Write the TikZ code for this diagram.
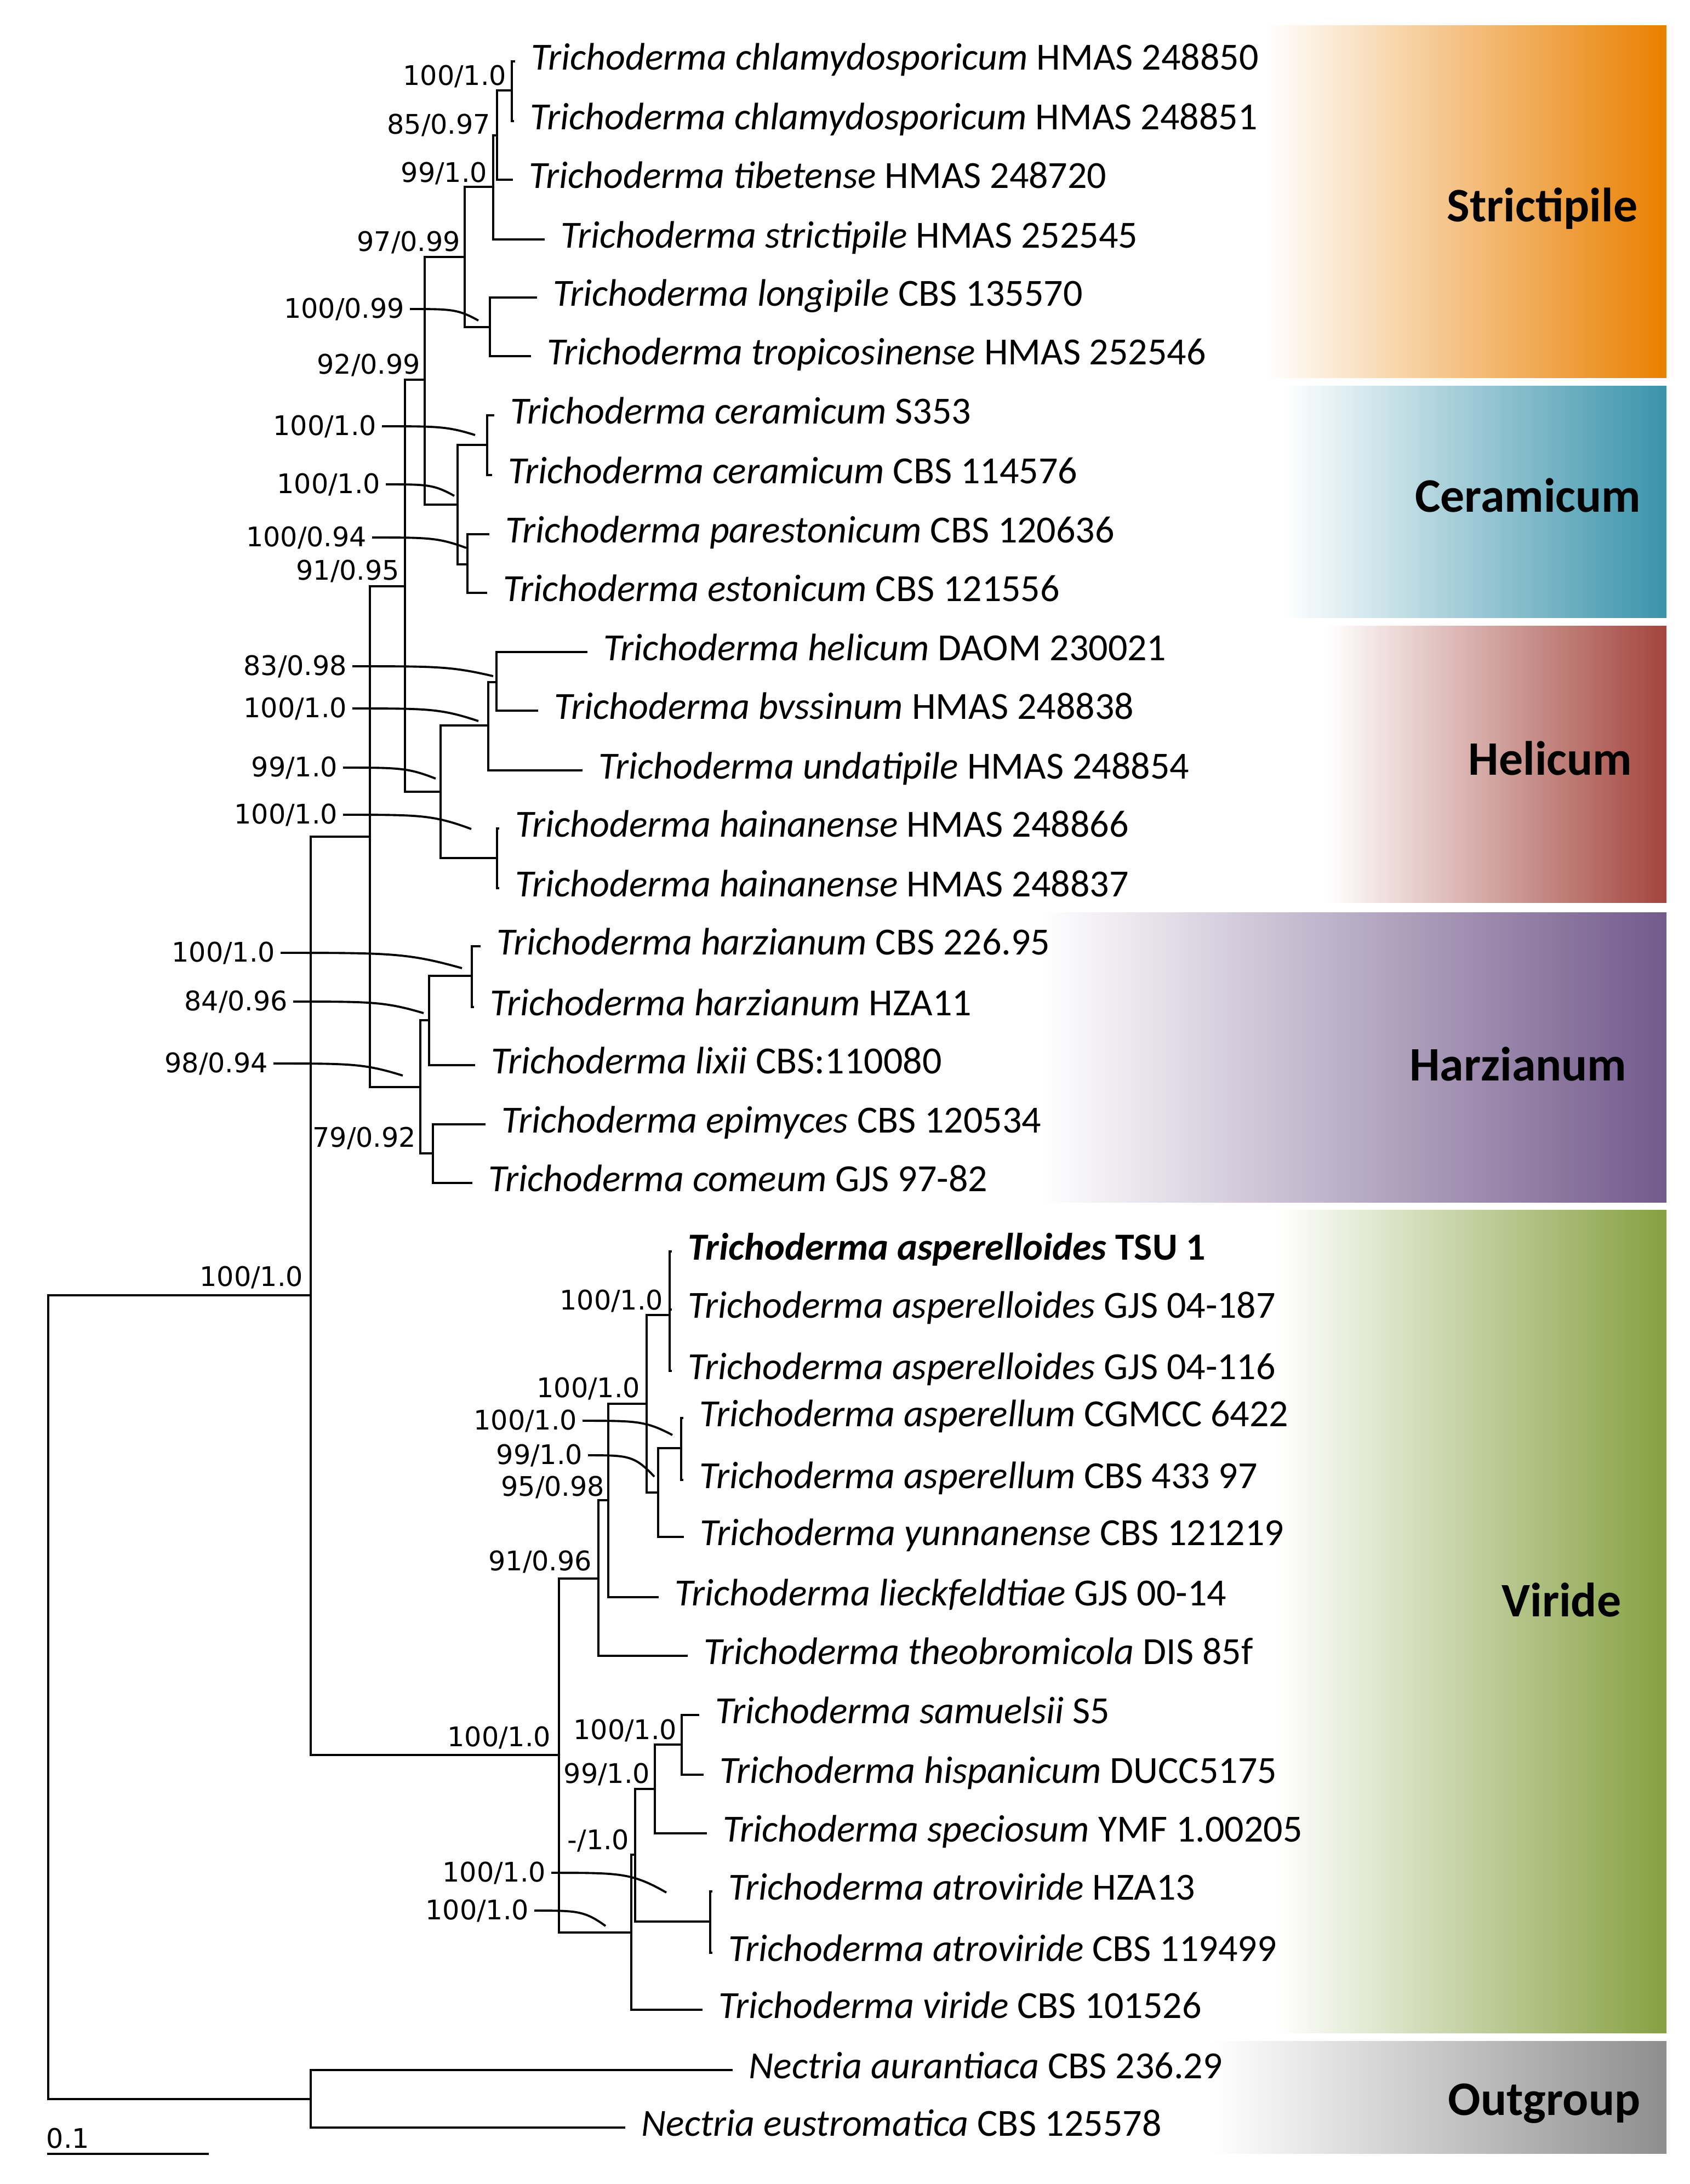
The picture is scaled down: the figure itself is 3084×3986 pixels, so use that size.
\documentclass[tikz,border=0pt]{standalone}
\usepackage{fontspec}
\setmainfont{Carlito}
\newfontfamily\supfam{DejaVu Sans}
\usetikzlibrary{calc}
\definecolor{cStr}{RGB}{233,128,0}
\definecolor{cCer}{RGB}{58,147,171}
\definecolor{cHel}{RGB}{163,69,61}
\definecolor{cHar}{RGB}{115,90,140}
\definecolor{cVir}{RGB}{134,160,65}
\definecolor{cOut}{RGB}{142,142,142}
\newcommand\taxfont{\fontsize{19.9}{23}\selectfont}
\newcommand\supfont{\supfam\fontsize{14}{16}\selectfont}
\newcommand\cladefont{\bfseries\fontsize{25}{30}\selectfont}
\tikzset{
  br/.style={line width=1.2pt, line cap=rect},
  tx/.style={anchor=base west, inner sep=0pt, font=\taxfont, xshift=0.31cm, yshift=-0.15cm},
  sup/.style={anchor=base east, inner sep=0pt, font=\supfont},
  ldr/.style={line width=1.1pt},
  clade/.style={anchor=base east, inner sep=0pt, font=\cladefont},
}
\newcommand\leadline[1]{%
  \coordinate (a#1) at ([xshift=0.09cm]s#1.east);
  \draw[ldr] (a#1) .. controls ($(a#1)!0.6!(a#1 -| k#1)$) and ($(a#1 -| k#1)!0.3!(a#1)$) .. (k#1);}
\begin{document}
\begin{tikzpicture}[x=0.01cm, y=-0.01cm]
\useasboundingbox (0,0) rectangle (3084,3986);
% clade bands
\shade[left color=white, right color=cStr] (2310,46) rectangle (3041,689);
\shade[left color=white, right color=cCer] (2340,704) rectangle (3041,1127);
\shade[left color=white, right color=cHel] (2420,1142) rectangle (3041,1647);
\shade[left color=white, right color=cHar] (1900,1665) rectangle (3041,2194);
\shade[left color=white, right color=cVir] (2330,2208) rectangle (3041,3710);
\shade[left color=white, right color=cOut] (2210,3725) rectangle (3041,3930);
\node[clade] (gS) at (2989,404) {Strictipile};
\node[clade] (gC) at (2995,934) {Ceramicum};
\node[clade] (gH) at (2979,1414) {Helicum};
\node[clade] (gZ) at (2969,1972) {Harzianum};
\node[clade] (gV) at (2959,2950) {Viride};
\node[clade] (gO) at (2994,3860) {Outgroup};
% internal nodes
\coordinate (R) at (88,3097);
\coordinate (Tri) at (567,2364);
\coordinate (Nec) at (567,3831);
\coordinate (U) at (675,1527);
\coordinate (V) at (1020,3203);
\coordinate (W) at (739,1070);
\coordinate (Hz) at (767,1984);
\coordinate (E) at (775,693);
\coordinate (Hel) at (804,1445);
\coordinate (D) at (848,469);
\coordinate (Cer) at (835,921);
\coordinate (C) at (900,341);
\coordinate (LT) at (894,597);
\coordinate (B) at (907,247);
\coordinate (A) at (934,165);
\coordinate (CA) at (889,812);
\coordinate (CB) at (853,1030);
\coordinate (HA) at (891,1324);
\coordinate (HB) at (907,1566);
\coordinate (HC) at (906,1245);
\coordinate (HzA) at (783,1862);
\coordinate (HzH) at (861,1781);
\coordinate (HzE) at (790,2105);
\coordinate (VA) at (1092,2881);
\coordinate (VB) at (1152,3527);
\coordinate (VC) at (1110,2738);
\coordinate (VD) at (1180,2562);
\coordinate (VE) at (1222,2400);
\coordinate (VF) at (1201,2724);
\coordinate (VG) at (1243,2643);
\coordinate (VH) at (1159,3385);
\coordinate (VI) at (1195,3265);
\coordinate (VJ) at (1296,3507);
\coordinate (VK) at (1244,3184);
% tips
\coordinate (t1) at (938,112);
\coordinate (t2) at (936,221);
\coordinate (t3) at (934,328);
\coordinate (t4) at (992,437);
\coordinate (t5) at (978,543);
\coordinate (t6) at (967,650);
\coordinate (t7) at (900,758);
\coordinate (t8) at (896,867);
\coordinate (t9) at (891,975);
\coordinate (t10) at (887,1082);
\coordinate (t11) at (1070,1190);
\coordinate (t12) at (980,1297);
\coordinate (t13) at (1061,1406);
\coordinate (t14) at (909,1512);
\coordinate (t15) at (909,1621);
\coordinate (t16) at (875,1727);
\coordinate (t17) at (863,1838);
\coordinate (t18) at (865,1944);
\coordinate (t19) at (884,2052);
\coordinate (t20) at (860,2159);
\coordinate (t21) at (1224,2284);
\coordinate (t22) at (1224,2390);
\coordinate (t23) at (1224,2502);
\coordinate (t24) at (1245,2588);
\coordinate (t25) at (1245,2701);
\coordinate (t26) at (1246,2805);
\coordinate (t27) at (1200,2915);
\coordinate (t28) at (1253,3022);
\coordinate (t29) at (1274,3130);
\coordinate (t30) at (1282,3239);
\coordinate (t31) at (1288,3346);
\coordinate (t32) at (1298,3452);
\coordinate (t33) at (1298,3564);
\coordinate (t34) at (1280,3668);
\coordinate (t35) at (1335,3778);
\coordinate (t36) at (1139,3883);
% branches
\draw[br] (R)|-(Tri) (R)|-(Nec) (Tri)|-(U) (Tri)|-(V) (U)|-(W) (U)|-(Hz)
  (W)|-(E) (W)|-(Hel) (E)|-(D) (E)|-(Cer) (D)|-(C) (D)|-(LT)
  (C)|-(B) (C)|-(t4) (B)|-(A) (B)|-(t3) (A)|-(t1) (A)|-(t2)
  (LT)|-(t5) (LT)|-(t6) (Cer)|-(CA) (Cer)|-(CB) (CA)|-(t7) (CA)|-(t8)
  (CB)|-(t9) (CB)|-(t10) (Hel)|-(HA) (Hel)|-(HB) (HA)|-(HC) (HA)|-(t13)
  (HC)|-(t11) (HC)|-(t12) (HB)|-(t14) (HB)|-(t15)
  (Hz)|-(HzA) (Hz)|-(HzE) (HzA)|-(HzH) (HzA)|-(t18) (HzH)|-(t16) (HzH)|-(t17)
  (HzE)|-(t19) (HzE)|-(t20)
  (V)|-(VA) (V)|-(VB) (VA)|-(VC) (VA)|-(t28) (VC)|-(VD) (VC)|-(t27)
  (VD)|-(VE) (VD)|-(VF) (VE)|-(t21) (VE)|-(t22) (VE)|-(t23)
  (VF)|-(VG) (VF)|-(t26) (VG)|-(t24) (VG)|-(t25)
  (VB)|-(VH) (VB)|-(t34) (VH)|-(VI) (VH)|-(VJ) (VI)|-(VK) (VI)|-(t31)
  (VK)|-(t29) (VK)|-(t30) (VJ)|-(t32) (VJ)|-(t33)
  (Nec)|-(t35) (Nec)|-(t36);
% taxa
\node[tx] (n1) at (t1) {\textit{Trichoderma chlamydosporicum} HMAS 248850};
\node[tx] (n2) at (t2) {\textit{Trichoderma chlamydosporicum} HMAS 248851};
\node[tx] (n3) at (t3) {\textit{Trichoderma tibetense} HMAS 248720};
\node[tx] (n4) at (t4) {\textit{Trichoderma strictipile} HMAS 252545};
\node[tx] (n5) at (t5) {\textit{Trichoderma longipile} CBS 135570};
\node[tx] (n6) at (t6) {\textit{Trichoderma tropicosinense} HMAS 252546};
\node[tx] (n7) at (t7) {\textit{Trichoderma ceramicum} S353};
\node[tx] (n8) at (t8) {\textit{Trichoderma ceramicum} CBS 114576};
\node[tx] (n9) at (t9) {\textit{Trichoderma parestonicum} CBS 120636};
\node[tx] (n10) at (t10) {\textit{Trichoderma estonicum} CBS 121556};
\node[tx] (n11) at (t11) {\textit{Trichoderma helicum} DAOM 230021};
\node[tx] (n12) at (t12) {\textit{Trichoderma bvssinum} HMAS 248838};
\node[tx] (n13) at (t13) {\textit{Trichoderma undatipile} HMAS 248854};
\node[tx] (n14) at (t14) {\textit{Trichoderma hainanense} HMAS 248866};
\node[tx] (n15) at (t15) {\textit{Trichoderma hainanense} HMAS 248837};
\node[tx] (n16) at (t16) {\textit{Trichoderma harzianum} CBS 226.95};
\node[tx] (n17) at (t17) {\textit{Trichoderma harzianum} HZA11};
\node[tx] (n18) at (t18) {\textit{Trichoderma lixii} CBS:110080};
\node[tx] (n19) at (t19) {\textit{Trichoderma epimyces} CBS 120534};
\node[tx] (n20) at (t20) {\textit{Trichoderma comeum} GJS 97-82};
\node[tx] (n21) at (t21) {\textbf{\textit{Trichoderma asperelloides} TSU 1}};
\node[tx] (n22) at (t22) {\textit{Trichoderma asperelloides} GJS 04-187};
\node[tx] (n23) at (t23) {\textit{Trichoderma asperelloides} GJS 04-116};
\node[tx] (n24) at (t24) {\textit{Trichoderma asperellum} CGMCC 6422};
\node[tx] (n25) at (t25) {\textit{Trichoderma asperellum} CBS 433 97};
\node[tx] (n26) at (t26) {\textit{Trichoderma yunnanense} CBS 121219};
\node[tx] (n27) at (t27) {\textit{Trichoderma lieckfeldtiae} GJS 00-14};
\node[tx] (n28) at (t28) {\textit{Trichoderma theobromicola} DIS 85f};
\node[tx] (n29) at (t29) {\textit{Trichoderma samuelsii} S5};
\node[tx] (n30) at (t30) {\textit{Trichoderma hispanicum} DUCC5175};
\node[tx] (n31) at (t31) {\textit{Trichoderma speciosum} YMF 1.00205};
\node[tx] (n32) at (t32) {\textit{Trichoderma atroviride} HZA13};
\node[tx] (n33) at (t33) {\textit{Trichoderma atroviride} CBS 119499};
\node[tx] (n34) at (t34) {\textit{Trichoderma viride} CBS 101526};
\node[tx] (n35) at (t35) {\textit{Nectria aurantiaca} CBS 236.29};
\node[tx] (n36) at (t36) {\textit{Nectria eustromatica} CBS 125578};
% support values
\node[sup] (s1) at (925,155) {100/1.0};
\node[sup] (s2) at (896,244) {85/0.97};
\node[sup] (s3) at (890,332) {99/1.0};
\node[sup] (s4) at (841,458) {97/0.99};
\node[sup] (s5) at (739,580) {100/0.99};
\node[sup] (s6) at (768,682) {92/0.99};
\node[sup] (s7) at (688,794) {100/1.0};
\node[sup] (s8) at (695,900) {100/1.0};
\node[sup] (s9) at (670,997) {100/0.94};
\node[sup] (s10) at (730,1058) {91/0.95};
\node[sup] (s11) at (634,1232) {83/0.98};
\node[sup] (s12) at (634,1309) {100/1.0};
\node[sup] (s13) at (617,1417) {99/1.0};
\node[sup] (s14) at (617,1503) {100/1.0};
\node[sup] (s15) at (503,1755) {100/1.0};
\node[sup] (s16) at (526,1844) {84/0.96};
\node[sup] (s17) at (490,1957) {98/0.94};
\node[sup] (s18) at (760,2093) {79/0.92};
\node[sup] (s19) at (554,2347) {100/1.0};
\node[sup] (s20) at (1211,2390) {100/1.0};
\node[sup] (s21) at (1169,2550) {100/1.0};
\node[sup] (s22) at (1054,2609) {100/1.0};
\node[sup] (s23) at (1064,2672) {99/1.0};
\node[sup] (s24) at (1104,2730) {95/0.98};
\node[sup] (s25) at (1081,2866) {91/0.96};
\node[sup] (s26) at (1006,3187) {100/1.0};
\node[sup] (s27) at (1236,3174) {100/1.0};
\node[sup] (s28) at (1187,3254) {99/1.0};
\node[sup] (s29) at (1149,3375) {-/1.0};
\node[sup] (s30) at (997,3434) {100/1.0};
\node[sup] (s31) at (966,3503) {100/1.0};
% leader ends
\coordinate (k5) at (873,585);
\coordinate (k7) at (867,794);
\coordinate (k8) at (829,905);
\coordinate (k9) at (851,1000);
\coordinate (k11) at (900,1234);
\coordinate (k12) at (873,1316);
\coordinate (k13) at (795,1421);
\coordinate (k14) at (860,1513);
\coordinate (k15) at (843,1767);
\coordinate (k16) at (773,1849);
\coordinate (k17) at (735,1963);
\coordinate (k22) at (1227,2619);
\coordinate (k23) at (1194,2695);
\coordinate (k30) at (1216,3454);
\coordinate (k31) at (1105,3515);
\leadline{5}\leadline{7}\leadline{8}\leadline{9}\leadline{11}\leadline{12}
\leadline{13}\leadline{14}\leadline{15}\leadline{16}\leadline{17}
\leadline{22}\leadline{23}\leadline{30}\leadline{31}
% scale bar
\node[sup, anchor=base west] (sc) at (84,3920) {0.1};
\coordinate (sb1) at (86,3931);
\coordinate (sb2) at (381,3931);
\draw[line width=1.2pt] (sb1) -- (sb2);
\end{tikzpicture}
\end{document}
